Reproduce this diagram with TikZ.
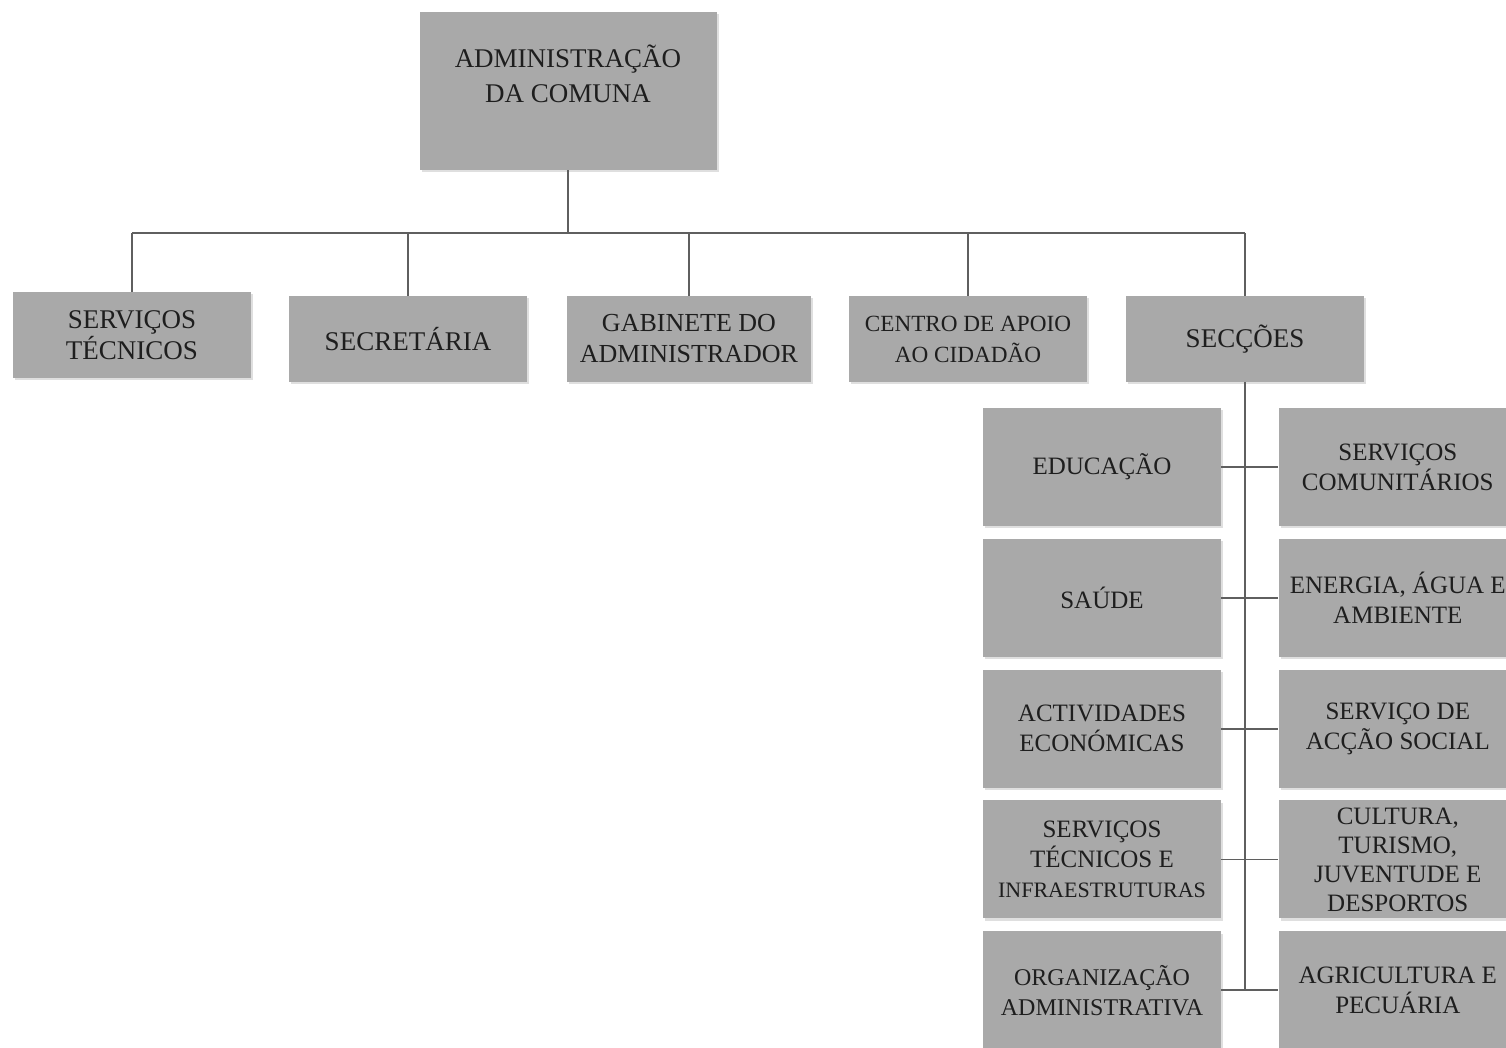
\documentclass[tikz,border=0pt]{standalone}
\usepackage{fontspec}
\setmainfont{Liberation Serif}
\usepackage{tikz}
\usetikzlibrary{positioning, shadows}
\definecolor{boxgray}{RGB}{169,169,169}
\definecolor{inkgray}{RGB}{30,30,30}
\definecolor{linegray}{RGB}{95,95,95}

\begin{document}
\begin{tikzpicture}[
        x=0.5pt, y=-0.5pt,
        font=\fontsize{13.5}{15.5}\selectfont,
        unit/.style={fill=boxgray, text=inkgray, align=center, inner sep=1pt, minimum width=119pt, minimum height=43pt, drop shadow={shadow xshift=1.2pt, shadow yshift=-1.2pt, opacity=0.25}},
        sub/.style={unit, minimum height=59pt, font=\fontsize{12.5}{15}\selectfont},
        conn/.style={draw=linegray, line width=0.9pt},
    ]
    \useasboundingbox (0,0) rectangle (1506,1048);
    \clip (0,0) rectangle (1506,1048);

    % Top
    \node[unit, minimum width=148.5pt, minimum height=79pt, font=\fontsize{13.5}{17.5}\selectfont] (adm) at (568,91) {ADMINISTRAÇÃO\\DA COMUNA\\\mbox{}};

    % Second row
    \node[unit] (servtec) at (132,335) {SERVIÇOS\\TÉCNICOS};
    \node[unit] (secret) at (408,339) {SECRETÁRIA};
    \node[unit, minimum width=122pt, font=\fontsize{13}{15.5}\selectfont] (gab) at (689,339) {GABINETE DO\\ADMINISTRADOR};
    \node[unit, font=\fontsize{11.6}{15.5}\selectfont] (centro) at (968,339) {CENTRO DE APOIO\\AO CIDADÃO};
    \node[unit] (seccoes) at (1245,339) {SECÇÕES};

    % Sections, left column
    \node[sub] (educ) at (1102,467) {EDUCAÇÃO};
    \node[sub, below=6pt of educ] (saude) {SAÚDE};
    \node[sub, below=6pt of saude] (activ) {ACTIVIDADES\\ECONÓMICAS};
    \node[sub, below=6pt of activ] (infra) {SERVIÇOS\\TÉCNICOS E\\{\fontsize{11}{15}\selectfont INFRAESTRUTURAS}};
    \node[sub, below=6pt of infra, font=\fontsize{12}{15}\selectfont] (organ) {ORGANIZAÇÃO\\ADMINISTRATIVA};

    % Sections, right column
    \node[sub, right=28.5pt of educ] (comun) {SERVIÇOS\\COMUNITÁRIOS};
    \node[sub, right=28.5pt of saude] (energ) {ENERGIA, ÁGUA E\\AMBIENTE};
    \node[sub, right=28.5pt of activ] (social) {SERVIÇO DE\\ACÇÃO SOCIAL};
    \node[sub, right=28.5pt of infra, font=\fontsize{12.5}{14.5}\selectfont] (cultura) {CULTURA,\\TURISMO,\\JUVENTUDE E\\DESPORTOS};
    \node[sub, right=28.5pt of organ] (agri) {AGRICULTURA E\\PECUÁRIA};

    % Connectors
    \coordinate (bus) at (568,233);
    \draw[conn] (adm.south) -- (bus);
    \draw[conn] (servtec.north |- bus) -- (seccoes.north |- bus);
    \foreach \u in {servtec, secret, gab, centro, seccoes}
        \draw[conn] (\u.north) -- (\u.north |- bus);
    \draw[conn] (seccoes.south) -- (seccoes.south |- agri.west);
    \foreach \l/\r in {educ/comun, saude/energ, activ/social, infra/cultura, organ/agri}
        \draw[conn] (\l.east) -- (\r.west);
\end{tikzpicture}
\end{document}
